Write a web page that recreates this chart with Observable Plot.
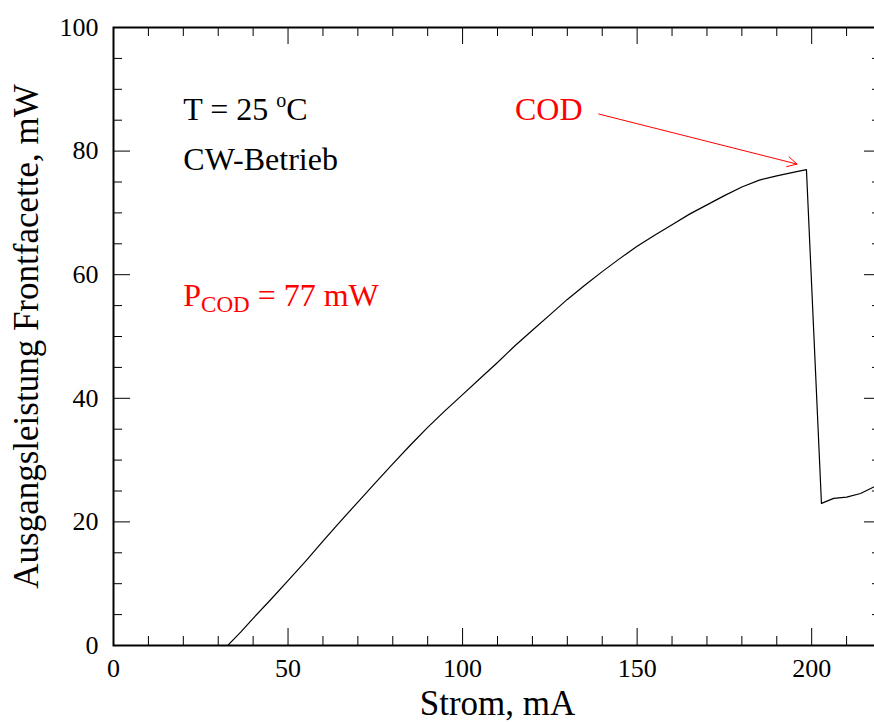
<!DOCTYPE html>
<html>
<head>
<meta charset="utf-8">
<script src="https://cdn.jsdelivr.net/npm/d3@7"></script>
<script src="https://cdn.jsdelivr.net/npm/@observablehq/plot@0.6"></script>
<style>
  html, body { margin: 0; padding: 0; background: #fff; overflow: hidden; }
  #chart { width: 874px; height: 722px; overflow: hidden; }
  #chart svg { display: block; max-width: none !important; }
</style>
</head>
<body>
<div id="chart"></div>
<script>
// Light–current characteristic of the laser diode (front facet, CW, 25 °C)
const current = [32.7, 36.5, 40, 45, 50, 55, 60, 65, 70, 75, 80, 85, 90, 95, 100,
  105, 110, 115, 120, 125, 130, 135, 140, 145, 150, 155, 160, 165, 170, 175, 180,
  185, 190, 195, 198.5, 202.8, 206.3, 210, 214, 218, 220];
const power = [0, 2.2, 4.4, 7.4, 10.5, 13.6, 16.9, 20.1, 23.2, 26.3, 29.4, 32.4, 35.3, 38.0, 40.6,
  43.2, 45.8, 48.5, 51.0, 53.5, 56.0, 58.3, 60.5, 62.6, 64.6, 66.4, 68.1, 69.8, 71.3, 72.8, 74.2,
  75.3, 76.0, 76.6, 77.0, 23.0, 23.8, 24.0, 24.6, 25.7, 26.4];

// Axis ticks
const xMajor = [0, 50, 100, 150, 200];
const xMinor = [10, 20, 30, 40, 60, 70, 80, 90, 110, 120, 130, 140, 160, 170, 180, 190, 210];
const yMajor = [0, 20, 40, 60, 80, 100];
const yMinor = [5, 10, 15, 25, 30, 35, 45, 50, 55, 65, 70, 75, 85, 90, 95];

// Annotations (_{..} subscript, ^{..} superscript)
const noteText = ["T = 25 ^{o}C", "CW-Betrieb", "P_{COD} = 77 mW", "COD"];
const noteX = [20, 20, 20, 115];
const noteY = [85, 77, 55, 85];
const noteColor = ["black", "black", "red", "red"];

// Arrow from the COD label to the catastrophic optical damage point
const arrowX = [139, 195.8];
const arrowY = [86, 77.9];

const width = 882, height = 722;
const margin = {top: 27, right: 1, bottom: 77, left: 113};
const innerW = width - margin.left - margin.right;
const innerH = height - margin.top - margin.bottom;
const majorLen = 17, minorLen = 9;
const font = "'Liberation Serif', 'Times New Roman', serif";

const curve = current.map((c, i) => ({current: c, power: power[i]}));
const notes = noteText.map((t, i) => ({text: t, x: noteX[i], y: noteY[i], color: noteColor[i]}));

const chart = Plot.plot({
  width, height,
  marginTop: margin.top, marginRight: margin.right,
  marginBottom: margin.bottom, marginLeft: margin.left,
  style: {fontFamily: font, background: "#fff", color: "black", maxWidth: "none"},
  x: {domain: [0, 220], axis: null},
  y: {domain: [0, 100], axis: null},
  marks: [
    // inward ticks on all four sides
    Plot.tickX(xMajor, {x: d => d, insetTop: innerH - majorLen, stroke: "black", strokeWidth: 1}),
    Plot.tickX(xMinor, {x: d => d, insetTop: innerH - minorLen, stroke: "black", strokeWidth: 1}),
    Plot.tickX(xMajor, {x: d => d, insetBottom: innerH - majorLen, stroke: "black", strokeWidth: 1}),
    Plot.tickX(xMinor, {x: d => d, insetBottom: innerH - minorLen, stroke: "black", strokeWidth: 1}),
    Plot.tickY(yMajor, {y: d => d, insetRight: innerW - majorLen, stroke: "black", strokeWidth: 1}),
    Plot.tickY(yMinor, {y: d => d, insetRight: innerW - minorLen, stroke: "black", strokeWidth: 1}),
    Plot.tickY(yMajor, {y: d => d, insetLeft: innerW - majorLen, stroke: "black", strokeWidth: 1}),
    Plot.tickY(yMinor, {y: d => d, insetLeft: innerW - minorLen, stroke: "black", strokeWidth: 1}),
    // tick labels
    Plot.axisX(xMajor, {tickSize: 0, tickPadding: 13, fontSize: 26, label: null, fill: "black"}),
    Plot.axisY(yMajor, {tickSize: 0, tickPadding: 15, fontSize: 26, label: null, fill: "black"}),
    // axis titles
    Plot.text(["Strom, mA"], {text: d => d, frameAnchor: "bottom", dy: 69, lineAnchor: "bottom",
      textAnchor: "middle", fontSize: 35, fill: "black"}),
    Plot.text(["Ausgangsleistung Frontfacette, mW"], {text: d => d, frameAnchor: "left", dx: -76,
      rotate: -90, lineAnchor: "bottom", textAnchor: "middle", fontSize: 35, fill: "black"}),
    // measured curve
    Plot.line(curve, {x: "current", y: "power", stroke: "black", strokeWidth: 1.2, clip: true}),
    // annotations
    Plot.text(notes, {x: "x", y: "y", text: "text", fill: "color", textAnchor: "start",
      lineAnchor: "bottom", fontSize: 32}),
    Plot.arrow([0], {x1: () => arrowX[0], y1: () => arrowY[0], x2: () => arrowX[1], y2: () => arrowY[1],
      stroke: "red", strokeWidth: 1, headLength: 16, headAngle: 56}),
    Plot.frame({stroke: "black", strokeWidth: 2})
  ]
});

// Turn _{..} / ^{..} markup into shifted, smaller tspans
const NS = "http://www.w3.org/2000/svg";
d3.select(chart).selectAll("text").each(function () {
  const s = this.textContent;
  if (!/[_^]\{/.test(s)) return;
  this.textContent = "";
  const re = /([_^])\{([^}]*)\}/g;
  let last = 0, shift = 0, m;
  const add = (t, dy, size) => {
    const ts = document.createElementNS(NS, "tspan");
    ts.textContent = t;
    if (dy) ts.setAttribute("dy", dy);
    if (size) ts.setAttribute("font-size", size);
    this.appendChild(ts);
  };
  while ((m = re.exec(s))) {
    if (m.index > last) { add(s.slice(last, m.index), -shift, null); shift = 0; }
    const dy = m[1] === "_" ? 6 : -13;
    add(m[2], dy - shift, m[1] === "_" ? 23 : 20);
    shift = dy;
    last = re.lastIndex;
  }
  if (last < s.length) add(s.slice(last), -shift, null);
});

document.getElementById("chart").appendChild(chart);
</script>
</body>
</html>
